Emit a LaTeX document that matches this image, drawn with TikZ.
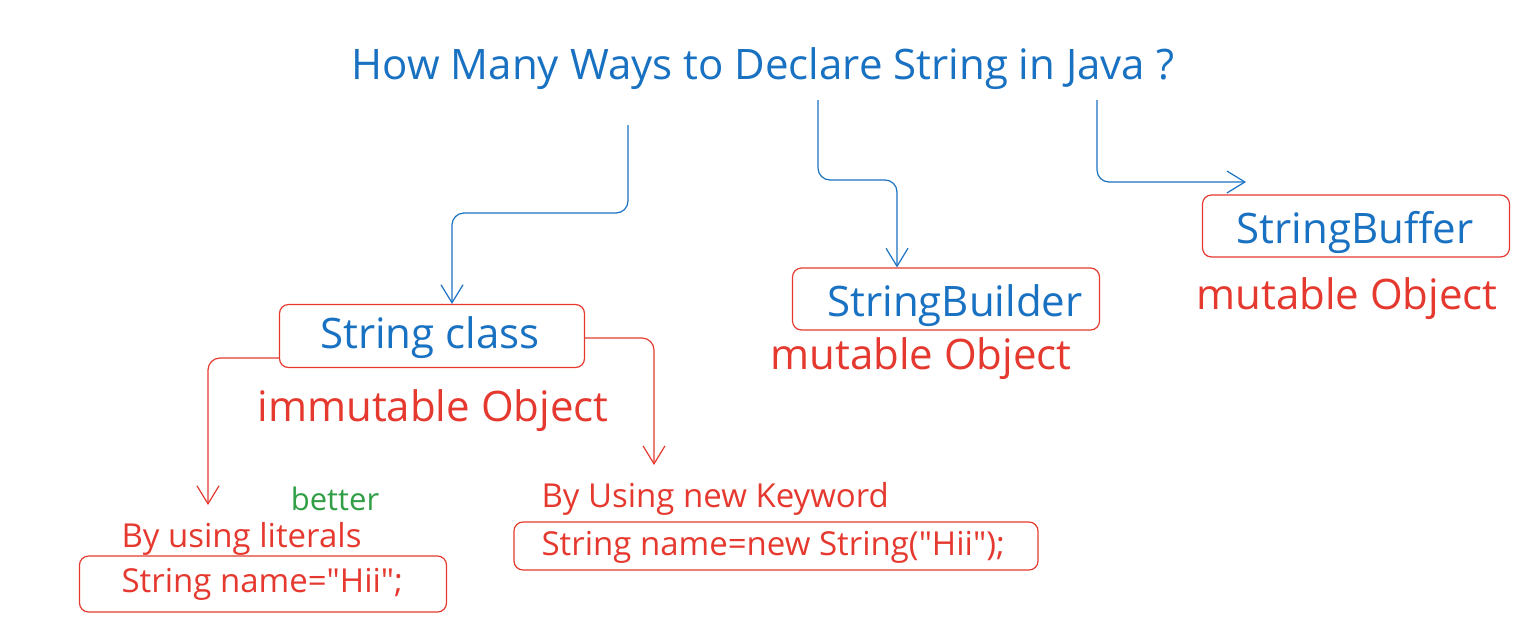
\documentclass[tikz,border=0pt]{standalone}
\usepackage{fontspec}
\setmainfont{Open Sans}[Ligatures=TeXOff]
\usepackage{xcolor}
\usetikzlibrary{arrows.meta,positioning}
\definecolor{jblue}{HTML}{1971C2}
\definecolor{jred}{HTML}{E5392F}
\definecolor{jgreen}{HTML}{2F9E44}

\begin{document}
\begin{tikzpicture}[
    x=1pt,y=-1pt,
    box/.style={draw=jred, rounded corners=9pt, line width=1.2pt, inner sep=0pt},
    big/.style={font=\fontsize{42}{46}\selectfont},
    small/.style={font=\fontsize{33}{36}\selectfont, text=jred},
    ba/.style={draw=jblue, line width=1.2pt, rounded corners=12pt, -{Straight Barb[length=18pt,width=22pt]}},
    ra/.style={draw=jred, line width=1.2pt, rounded corners=12pt, -{Straight Barb[length=18pt,width=22pt]}}
]
\useasboundingbox (0,0) rectangle (1514,638);

% Title
\node[big, text=jblue] (title) at (763,69) {How Many Ways to Declare String in Java ?};

% Three kinds of strings
\node[box, minimum width=305pt, minimum height=63pt] (strbox) at (432,336) {};
\node[big, text=jblue] (strcls) at (430,338) {String class};
\node[big, text=jred] (immut) at (433,411) {immutable Object};

\node[box, minimum width=307pt, minimum height=62pt] (bldbox) at (946,299) {};
\node[big, text=jblue] (bld) at (955,306) {StringBuilder};
\node[big, text=jred] (mut1) at (921,359) {mutable Object};

\node[box, minimum width=307pt, minimum height=62pt] (bufbox) at (1356,226) {};
\node[big, text=jblue] (buf) at (1355,232) {StringBuffer};
\node[big, text=jred] (mut2) at (1347,299) {mutable Object};

% Two ways for String class
\node[font=\fontsize{31}{34}\selectfont, text=jgreen] (better) at (335,499) {better};
\node[small, anchor=west] (lit) at (118,539) {By using literals};
\node[box, minimum width=367pt, minimum height=56pt] (litbox) at (263,584) {};
\node[small, anchor=west] (litcode) at (118,584) {String name="Hii";};

\node[small, anchor=west] (kw) at (538,499) {By Using new Keyword};
\node[box, minimum width=524pt, minimum height=48pt] (kwbox) at (776,546) {};
\node[small, anchor=west] (kwcode) at (538,547) {String name=new String("Hii");};

% Connector points under the title
\coordinate (t1) at (628,125);
\coordinate (t2) at (818,100);
\coordinate (t3) at (1097,100);
\coordinate (t3end) at (1246,182);

\draw[ba] (t1) |- (452,213) -- (strbox.north -| 452,0);
\draw[ba] (t2) |- (897,180) -- (bldbox.north -| 897,0);
\draw[ba] (t3) |- (t3end);

\coordinate (l1) at (208,505);
\coordinate (r1) at (654,465);
\draw[ra] (strbox.west |- 0,358) -| (l1);
\draw[ra] (strbox.east |- 0,338) -| (r1);
\end{tikzpicture}
\end{document}
